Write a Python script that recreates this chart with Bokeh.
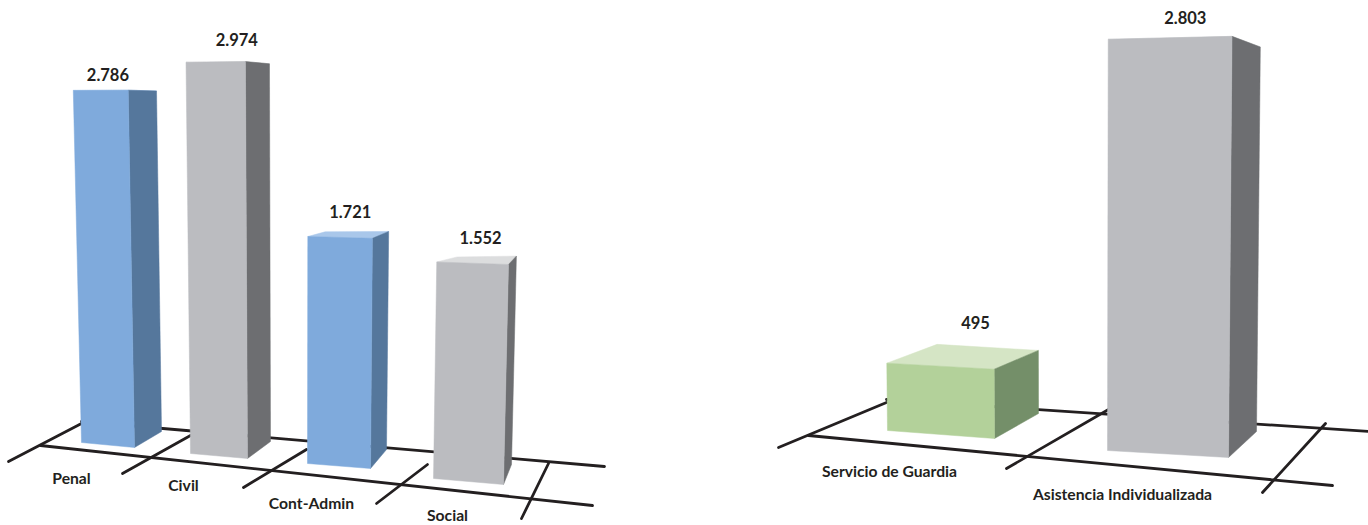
from bokeh.plotting import figure
from bokeh.models import Range1d
from bokeh.core.properties import value as val
from bokeh.embed import file_html
from bokeh.resources import INLINE

# ---- data ----
categories_left = ["Penal", "Civil", "Cont-Admin", "Social"]
values_left = [2786, 2974, 1721, 1552]
labels_left = ["2.786", "2.974", "1.721", "1.552"]

categories_right = ["Servicio de Guardia", "Asistencia Individualizada"]
values_right = [495, 2803]
labels_right = ["495", "2.803"]

# ---- colours ----
BLUE = ("#7faadc", "#55779c", "#a9c7ea")
GRAY = ("#bbbcc0", "#6d6e71", "#dcddde")
GREEN = ("#b3d19a", "#748f69", "#d5e5c5")
INK = "#231f20"
FONT = val("Lato")

# ---- layout: floor footprints (front-left, front-right, back-right, back-left), page px ----
feet_left = [
    [(81, 442), (134, 447), (161, 431), (108, 426)],
    [(190, 453), (247, 458), (270, 441), (213, 436)],
    [(307, 463), (370, 468), (386, 449), (324, 450)],
    [(433, 478), (503, 484), (511, 464), (453, 466)],
]
feet_right = [
    [(887, 430), (994, 438), (1038, 413), (937, 405)],
    [(1107, 450), (1228, 457), (1256, 431), (1135, 424)],
]
colors_left = [BLUE, GRAY, BLUE, GRAY]
colors_right = [GREEN, GRAY]
# small per-bar perspective correction
depth_left = [1.003, 1.011, 0.985, 1.0]
depth_right = [1.0, 1.005]

# perspective camera of each chart: (vanish x, lean, scale at ref y, ref y, scale slope)
cam_left = (295, 1.09e-4, 0.126, 442, 0.000376)
cam_right = (1075, 5.5e-5, 0.139, 436, 0.0005)

# offsets of value labels from the bar top (dx, gap)
label_off_left = [(-7, 16), (9, 22), (2, 20), (4, 19)]
label_off_right = [(13, 22), (1, 19)]
cat_pos_left = [(71, 477), (183, 484), (311, 502), (447, 514)]
cat_pos_right = [(889, 470), (1122, 493)]

# floor lines (page px)
floor = [
    [(8, 461), (81, 423)], [(122, 473), (190, 435)], [(243, 487), (306, 449)],
    [(376, 503), (427, 464)], [(521, 518), (548, 463)],
    [(81, 421), (604, 466)], [(40, 445), (592, 505)],
    [(778, 447), (886, 402)], [(1006, 468), (1108, 409)], [(1262, 492), (1325, 423)],
    [(886, 399), (1368, 431)], [(808, 435), (1332, 485)],
]

W, H = 1368, 525
p = figure(width=W, height=H, x_range=Range1d(0, W), y_range=Range1d(H, 0),
           output_backend="svg", toolbar_location=None, min_border=0,
           outline_line_color=None, background_fill_color="white")
p.xaxis.visible = False
p.yaxis.visible = False
p.grid.visible = False

for seg in floor:
    p.line([seg[0][0], seg[1][0]], [seg[0][1], seg[1][1]], line_color=INK, line_width=2.8,
           line_cap="round")


def top_of(foot, v, cam, k):
    vx, lean, s0, y0, slope = cam
    x, y = foot
    h = v * (s0 + slope * (y - y0)) * k
    return x + (x - vx) * lean * h, y - h


def draw(feet, vals, colors, labels, offs, cats, cat_pos, cam, depth):
    for f, v, c, lab, off, cat, cp, k in zip(feet, vals, colors, labels, offs, cats, cat_pos, depth):
        t = [top_of(pt, v, cam, k) for pt in f]
        front, side, top = c
        p.patch([q[0] for q in t], [q[1] for q in t], fill_color=top, line_color=top, line_width=0.5)
        p.patch([f[2][0], f[1][0], t[1][0], t[2][0]], [f[2][1], f[1][1], t[1][1], t[2][1]],
                fill_color=side, line_color=side, line_width=0.5)
        p.patch([f[0][0], f[1][0], t[1][0], t[0][0]], [f[0][1], f[1][1], t[1][1], t[0][1]],
                fill_color=front, line_color=front, line_width=0.5)
        cx = (t[0][0] + t[2][0]) / 2 + off[0]
        cy = min(q[1] for q in t) - off[1]
        p.text([cx], [cy], text=[lab], text_font=FONT, text_font_style="bold", text_font_size="16.5px",
               text_color=INK, text_align="center", text_baseline="middle")
        p.text([cp[0]], [cp[1]], text=[cat], text_font=FONT, text_font_style="bold",
               text_font_size="15.7px", text_color=INK, text_align="center", text_baseline="middle")


draw(feet_left, values_left, colors_left, labels_left, label_off_left, categories_left, cat_pos_left, cam_left, depth_left)
draw(feet_right, values_right, colors_right, labels_right, label_off_right, categories_right, cat_pos_right, cam_right, depth_right)

open("out.html", "w").write(file_html(p, INLINE))
